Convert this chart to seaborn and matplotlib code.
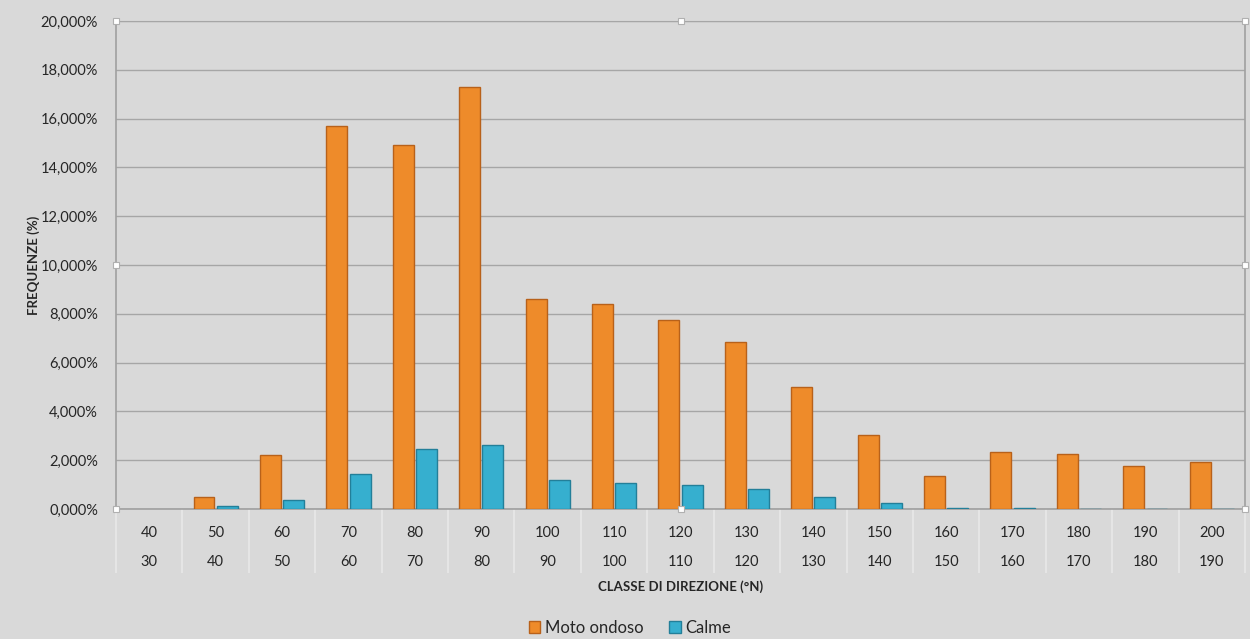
import numpy as np
import pandas as pd
import matplotlib
matplotlib.use("Agg")
import matplotlib.pyplot as plt
from matplotlib.ticker import FuncFormatter
import seaborn as sns

# direction classes (upper / lower bound, deg N)
classe_sup = [40, 50, 60, 70, 80, 90, 100, 110, 120, 130, 140, 150, 160, 170, 180, 190, 200]
classe_inf = [30, 40, 50, 60, 70, 80, 90, 100, 110, 120, 130, 140, 150, 160, 170, 180, 190]

# frequencies (%)
moto_ondoso = [0.0, 0.48, 2.21, 15.70, 14.92, 17.30, 8.60, 8.40, 7.75, 6.84, 5.00,
               3.02, 1.35, 2.33, 2.25, 1.76, 1.93]
calme = [0.0, 0.13, 0.36, 1.43, 2.45, 2.62, 1.18, 1.07, 0.98, 0.81, 0.48,
         0.23, 0.05, 0.05, 0.02, 0.02, 0.02]

serie_nomi = ["Moto ondoso", "Calme"]
colori = ["#EE8B2A", "#36AFCF"]
bordi = ["#B8611A", "#237F99"]

df = pd.DataFrame({
    "classe": [str(c) for c in classe_sup] * 2,
    "serie": [serie_nomi[0]] * len(moto_ondoso) + [serie_nomi[1]] * len(calme),
    "freq": moto_ondoso + calme,
})

sns.set_style("white")
plt.rcParams["font.family"] = ["Lato", "DejaVu Sans"]
bg = "#D9D9D9"

fig = plt.figure(figsize=(12.5, 6.39), dpi=100, facecolor=bg)
ax = fig.add_axes([0.0928, 0.2034, 0.9032, 0.7637])
ax.set_facecolor(bg)

sns.barplot(data=df, x="classe", y="freq", hue="serie", palette=colori,
            width=0.7, gap=0.1, saturation=1, ax=ax, legend=False, zorder=3)

# darker edges per series, nothing drawn for empty classes
for cont, ec in zip(ax.containers, bordi):
    for bar in cont:
        bar.set_edgecolor(ec)
        bar.set_linewidth(1.0 if bar.get_height() > 0 else 0)

ax.set_ylim(0, 20)
ax.set_xlim(-0.5, len(classe_sup) - 0.5)
ax.set_yticks(np.arange(0, 21, 2))
ax.yaxis.set_major_formatter(FuncFormatter(lambda v, p: f"{v:.3f}%".replace(".", ",")))
ax.tick_params(axis="y", length=0, pad=13, labelsize=10.5, labelcolor="#262626")
ax.tick_params(axis="x", length=0, labelbottom=False)
ax.grid(axis="y", color="#A6A6A6", linewidth=1, zorder=0)
ax.set_axisbelow(True)

for side in ["left", "right", "bottom"]:
    ax.spines[side].set_color("#A0A0A0")
    ax.spines[side].set_linewidth(1.2)
ax.spines["top"].set_color("#A6A6A6")

# two-row category labels
for i, (hi, lo) in enumerate(zip(classe_sup, classe_inf)):
    ax.text(i, -0.049, str(hi), transform=ax.get_xaxis_transform(),
            ha="center", va="center", fontsize=10.5, color="#262626")
    ax.text(i, -0.109, str(lo), transform=ax.get_xaxis_transform(),
            ha="center", va="center", fontsize=10.5, color="#262626")
ax.vlines(np.arange(-0.5, len(classe_sup)), -0.131, 0, transform=ax.get_xaxis_transform(),
          colors="#E8E8E8", linewidth=1.2, clip_on=False)

ax.set_xlabel("CLASSE DI DIREZIONE (°N)", fontsize=9.5, fontweight="bold",
              color="#262626", labelpad=0)
ax.xaxis.set_label_coords(0.5, -0.147)
ax.set_ylabel("FREQUENZE (%)", fontsize=9.5, fontweight="bold", color="#262626")
ax.yaxis.set_label_coords(-0.067, 0.5)

# selection handles
hx = [0, 0.5, 1, 0, 1, 0, 0.5, 1]
hy = [1, 1, 1, 0.5, 0.5, 0, 0, 0]
ax.plot(hx, hy, ls="none", marker="s", ms=4, mfc="white", mec="#B0B0B0", mew=0.8,
        transform=ax.transAxes, clip_on=False, zorder=5)

handles = [plt.Rectangle((0, 0), 1, 1, facecolor=c, edgecolor=e) for c, e in zip(colori, bordi)]
fig.legend(handles, serie_nomi, loc="center", bbox_to_anchor=(0.504, 0.017), ncol=2,
           frameon=False, fontsize=12, handlelength=0.7, handleheight=0.7,
           handletextpad=0.3, columnspacing=1.5, labelcolor="#262626")

fig.savefig("out.png", dpi=100, facecolor=bg)
